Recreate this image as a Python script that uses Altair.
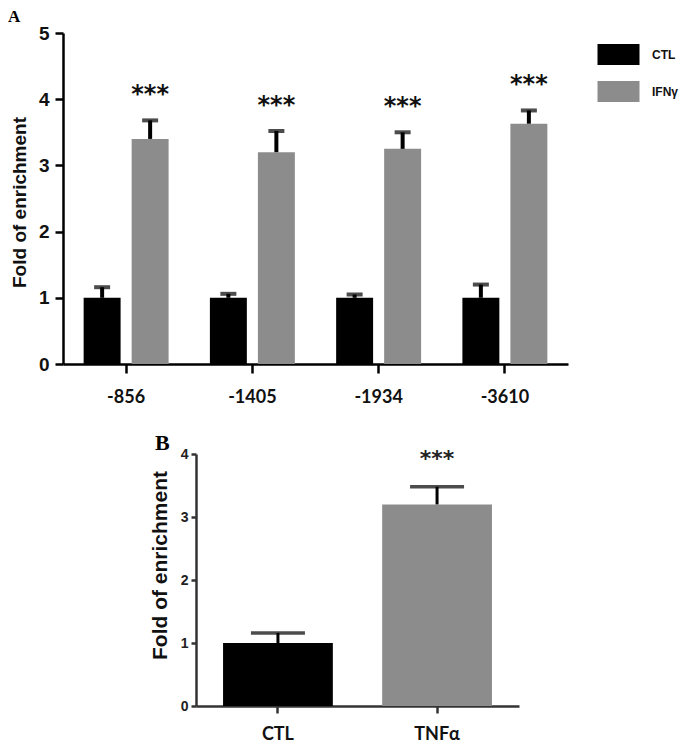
import altair as alt
import pandas as pd

# ---- Panel A data ----
sites = ["-856", "-1405", "-1934", "-3610"]
treatments_a = ["CTL", "IFNγ"]
ctl_mean = [1.0, 1.0, 1.0, 1.0]
ctl_err = [0.16, 0.06, 0.05, 0.20]
ifn_mean = [3.40, 3.20, 3.25, 3.63]
ifn_err = [0.28, 0.32, 0.25, 0.20]
sig_a = ["", "***"]

# ---- Panel B data ----
groups_b = ["CTL", "TNFα"]
b_mean = [1.0, 3.20]
b_err = [0.16, 0.28]
sig_b = ["", "***"]

colors = ["#000000", "#8c8c8c"]

rows = []
for i, s in enumerate(sites):
    rows.append({"site": s, "treat": "CTL", "mean": ctl_mean[i], "upper": ctl_mean[i] + ctl_err[i], "sig": sig_a[0]})
    rows.append({"site": s, "treat": "IFNγ", "mean": ifn_mean[i], "upper": ifn_mean[i] + ifn_err[i], "sig": sig_a[1]})
dfA = pd.DataFrame(rows)

dfB = pd.DataFrame({
    "grp": groups_b,
    "mean": b_mean,
    "upper": [m + e for m, e in zip(b_mean, b_err)],
    "sig": sig_b,
})

noview = alt.ViewBackground(stroke="transparent", fill="transparent", strokeWidth=0)

# ---------------- Panel A ----------------
xA = alt.X("site:N", sort=sites, title=None,
           scale=alt.Scale(paddingInner=0, paddingOuter=0),
           axis=alt.Axis(labelAngle=0, labelFont="Lato", labelFontWeight="bold", labelFontSize=18,
                         labelColor="#111", labelPadding=15, tickSize=9, tickWidth=2.5, tickColor="black",
                         domainColor="black", domainWidth=2.5))
xoA = alt.XOffset("treat:N", sort=treatments_a,
                  scale=alt.Scale(paddingInner=0.23, paddingOuter=0.43))
yA = alt.Y("mean:Q", scale=alt.Scale(domain=[0, 5], nice=False),
           axis=alt.Axis(values=[0, 1, 2, 3, 4, 5], format="d", title="Fold of enrichment", grid=False,
                         labelFont="Liberation Sans", labelFontWeight="bold", labelFontSize=19,
                         labelColor="#111", labelPadding=6, tickSize=8, tickWidth=2.5, tickColor="black",
                         domainColor="black", domainWidth=2.5,
                         titleFont="Liberation Sans", titleFontWeight="bold", titleFontSize=19,
                         titleColor="#111", titleX=-44, titleY=169, titleBaseline="middle"))

barsA = alt.Chart(dfA).mark_bar(stroke=None).encode(
    x=xA, xOffset=xoA, y=yA,
    color=alt.Color("treat:N", sort=treatments_a,
                    scale=alt.Scale(domain=treatments_a, range=colors),
                    legend=alt.Legend(orient="none", legendX=545, legendY=11, title=None,
                                      symbolType="M-2,-1H2V1H-2Z", symbolSize=441,
                                      symbolStrokeWidth=0, symbolOpacity=1,
                                      labelFont="Liberation Sans", labelFontWeight="bold",
                                      labelFontSize=12, labelColor="#111", labelOffset=23,
                                      rowPadding=16, padding=0)),
)
errA = alt.Chart(dfA).mark_rule(color="black", strokeWidth=4).encode(
    x=alt.X("site:N", sort=sites), xOffset=alt.XOffset("treat:N", sort=treatments_a),
    y="mean:Q", y2="upper:Q")
capA = alt.Chart(dfA).mark_tick(color="black", thickness=4, size=16, orient="horizontal").encode(
    x=alt.X("site:N", sort=sites), xOffset=alt.XOffset("treat:N", sort=treatments_a),
    y="upper:Q")
starsA = alt.Chart(dfA).mark_text(font="DejaVu Sans", fontWeight="bold", fontSize=24,
                                  baseline="middle", dy=-25, color="#111").encode(
    x=alt.X("site:N", sort=sites), xOffset=alt.XOffset("treat:N", sort=treatments_a),
    y="upper:Q", text="sig:N")
labelA = alt.Chart(pd.DataFrame({"t": ["A"]})).mark_text(
    font="Liberation Serif", fontWeight="bold", fontSize=17, align="left", baseline="top",
    color="black").encode(text="t:N", x=alt.value(-55), y=alt.value(-24))

panelA = alt.layer(barsA, errA, capA, starsA, labelA).properties(width=505, height=331, view=noview)

# ---------------- Panel B ----------------
xB = alt.X("grp:N", sort=groups_b, title=None,
           scale=alt.Scale(paddingInner=0.31, paddingOuter=0.17),
           axis=alt.Axis(labelAngle=0, labelFont="Lato", labelFontWeight="bold", labelFontSize=18,
                         labelColor="#111", labelPadding=12, tickSize=7, tickWidth=2.5, tickColor="#333",
                         domainColor="#333", domainWidth=2.5))
yB = alt.Y("mean:Q", scale=alt.Scale(domain=[0, 4], nice=False),
           axis=alt.Axis(values=[0, 1, 2, 3, 4], format="d", title="Fold of enrichment", grid=False,
                         labelFont="Liberation Sans", labelFontWeight="bold", labelFontSize=14,
                         labelColor="#222", labelPadding=3, tickSize=5, tickWidth=2.5, tickColor="#333",
                         domainColor="#333", domainWidth=2.5,
                         titleFont="Liberation Sans", titleFontWeight="bold", titleFontSize=21,
                         titleColor="#111", titleX=-36, titleY=111, titleBaseline="middle"))
barsB = alt.Chart(dfB).mark_bar(stroke=None).encode(
    x=xB, y=yB,
    color=alt.Color("grp:N", sort=groups_b, scale=alt.Scale(domain=groups_b, range=colors), legend=None))
errB = alt.Chart(dfB).mark_rule(color="black", strokeWidth=3).encode(
    x=alt.X("grp:N", sort=groups_b), y="mean:Q", y2="upper:Q")
capB = alt.Chart(dfB).mark_tick(color="black", thickness=3.5, size=54, orient="horizontal").encode(
    x=alt.X("grp:N", sort=groups_b), y="upper:Q")
starsB = alt.Chart(dfB).mark_text(font="DejaVu Sans", fontWeight="bold", fontSize=22,
                                  baseline="middle", dy=-28, color="#222").encode(
    x=alt.X("grp:N", sort=groups_b), y="upper:Q", text="sig:N")
labelB = alt.Chart(pd.DataFrame({"t": ["B"]})).mark_text(
    font="Liberation Serif", fontWeight="bold", fontSize=22, align="left", baseline="top",
    color="black").encode(text="t:N", x=alt.value(-41), y=alt.value(-21))

panelB = alt.layer(barsB, errB, capB, starsB, labelB).properties(width=323, height=252, view=noview)

spacer = alt.Chart(pd.DataFrame({"v": [0]})).mark_text(text="", opacity=0).encode(
    x=alt.value(0), y=alt.value(0)).properties(width=85, height=1, view=noview)

chart = alt.vconcat(
    panelA,
    alt.hconcat(spacer, panelB, spacing=0).resolve_scale(color="independent"),
    spacing=26,
).resolve_scale(color="independent").configure_view(
    stroke="transparent", strokeWidth=0).configure(padding=0, background="white")

chart.save("out.html", embed_options={"renderer": "svg", "actions": False})
